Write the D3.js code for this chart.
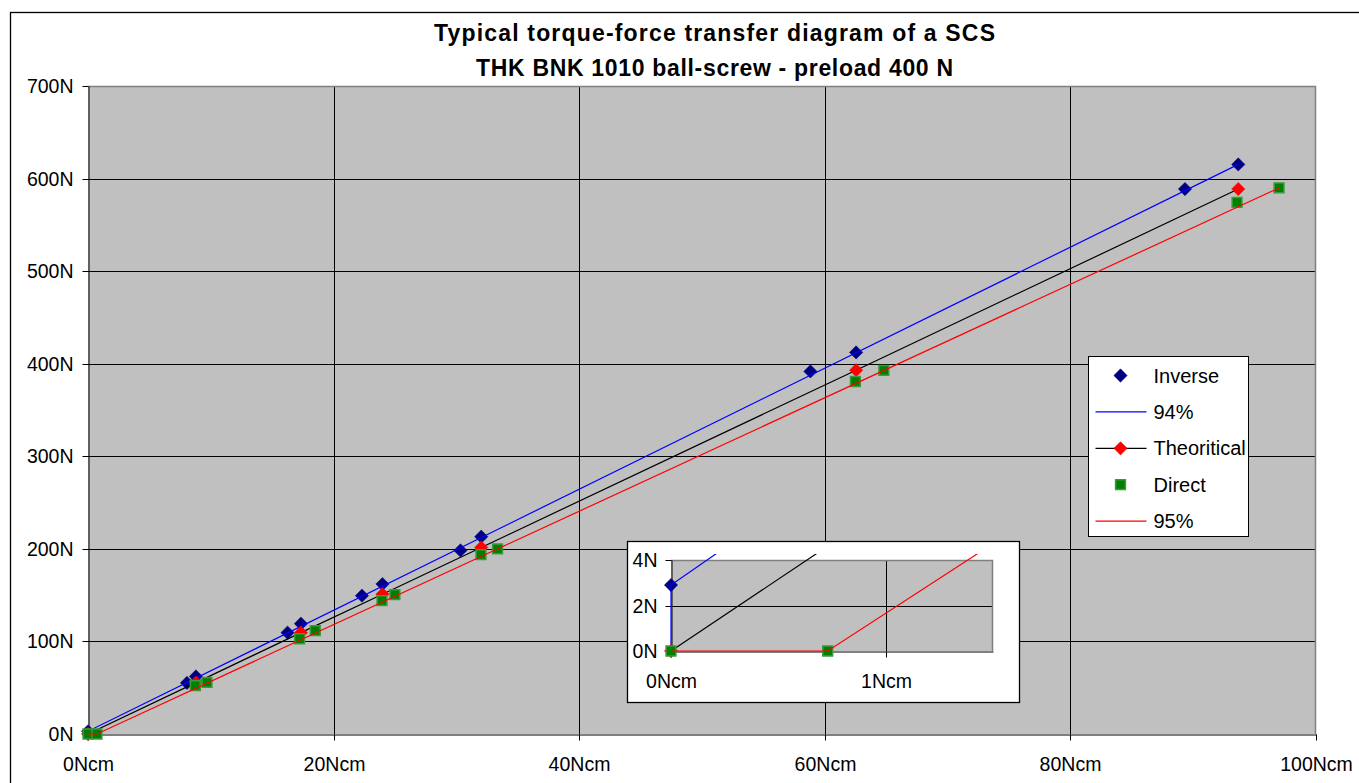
<!DOCTYPE html>
<html>
<head>
<meta charset="utf-8">
<script src="https://cdn.jsdelivr.net/npm/d3@7"></script>
<style>
  body { margin: 0; background: #fff; }
  svg { display: block; font-family: Arial, 'Liberation Sans', sans-serif; }
</style>
</head>
<body>
<svg id="chart" width="1359" height="783"></svg>
<script>
const titleLines = [
  'Typical torque-force transfer diagram of a SCS',
  'THK BNK 1010 ball-screw - preload 400 N'
]
const xTicks = [0, 20, 40, 60, 80, 100]
const yTicks = [0, 100, 200, 300, 400, 500, 600, 700]
const insetXTicks = [0, 1]
const insetYTicks = [0, 2, 4]

// torque (Ncm) / force (N)
const inverseTorque = [0, 8.06, 8.79, 16.25, 17.34, 22.31, 23.98, 30.33, 32.02, 58.83, 62.55, 89.33, 93.67]
const inverseForce = [2.9, 55.2, 62.2, 109.5, 119.2, 149.4, 162.0, 198.3, 213.1, 391.7, 412.2, 588.7, 615.3]
const line94Torque = [0, 0, 93.67]
const line94Force = [0, 2.9, 615.3]
const theoTorque = [0, 8.79, 17.34, 23.98, 32.02, 62.55, 93.67]
const theoForce = [0, 55.5, 109.5, 151.0, 201.5, 393.0, 588.7]
const directTorque = [0, 0.73, 8.74, 9.69, 17.23, 18.51, 23.94, 24.99, 32.0, 33.35, 62.49, 64.81, 93.57, 96.99]
const directForce = [0, 0, 52.2, 55.7, 102.9, 111.6, 144.0, 150.5, 193.7, 199.9, 380.8, 392.8, 574.3, 589.9]
const line95Torque = [0, 0.73, 96.99]
const line95Force = [0, 0, 589.9]

const zip = (xs, ys) => xs.map((x, i) => [x, ys[i]])

const series = [
  { name: 'Inverse', data: zip(inverseTorque, inverseForce), line: null, marker: 'diamond', fill: '#000080' },
  { name: '94%', data: zip(line94Torque, line94Force), line: '#0000ff', marker: null },
  { name: 'Theoritical', data: zip(theoTorque, theoForce), line: '#000000', marker: 'diamond', fill: '#ff0000' },
  { name: 'Direct', data: zip(directTorque, directForce), line: null, marker: 'square', fill: '#008000' },
  { name: '95%', data: zip(line95Torque, line95Force), line: '#ff0000', marker: null }
]

const svg = d3.select('#chart')
const fontSize = 19.5

// outer chart frame (runs off the right and bottom of the picture)
svg.append('rect')
  .attr('x', 10.5).attr('y', 12.5)
  .attr('width', 1400).attr('height', 800)
  .attr('fill', '#fff').attr('stroke', '#000').attr('stroke-width', 1.3)

svg.append('g')
  .selectAll('text')
  .data(titleLines)
  .join('text')
  .attr('x', 714.5)
  .attr('y', (d, i) => 41 + i * 35)
  .attr('text-anchor', 'middle')
  .attr('font-weight', 'bold')
  .attr('font-size', 23)
  .attr('textLength', (d, i) => [561, 477][i])
  .attr('lengthAdjust', 'spacing')
  .text(d => d)

function markerPath (kind) {
  if (kind === 'diamond') return d3.symbol(d3.symbolSquare, 88)()
  return d3.symbol(d3.symbolSquare, 96)()
}

function drawMarker (sel, s) {
  sel.attr('d', markerPath(s.marker))
    .attr('fill', s.fill)
    .attr('stroke', s.marker === 'square' ? '#3a9a3a' : s.fill)
    .attr('stroke-width', s.marker === 'square' ? 1.5 : 0.5)
}

function markerTransform (s, x, y) {
  return s.marker === 'diamond' ? `translate(${x},${y}) rotate(45)` : `translate(${x},${y})`
}

function drawPlot (g, x, y, opts) {
  const [x0, x1] = x.range()
  const [y0, y1] = y.range()

  g.append('rect')
    .attr('x', x0).attr('y', y1)
    .attr('width', x1 - x0).attr('height', y0 - y1)
    .attr('fill', '#c0c0c0')

  g.append('g')
    .selectAll('line')
    .data(opts.yTicks.slice(1, -1))
    .join('line')
    .attr('x1', x0).attr('x2', x1)
    .attr('y1', d => Math.round(y(d)) + 0.5).attr('y2', d => Math.round(y(d)) + 0.5)
    .attr('stroke', '#000')

  g.append('g')
    .selectAll('line')
    .data(opts.xTicks.slice(1).filter(d => x(d) < x1 - 1))
    .join('line')
    .attr('x1', d => Math.round(x(d)) + 0.5).attr('x2', d => Math.round(x(d)) + 0.5)
    .attr('y1', y1).attr('y2', y0)
    .attr('stroke', '#000')

  // top / right frame is grey
  g.append('path')
    .attr('d', `M${x0},${y1 + 0.5}H${x1 - 0.5}V${y0}`)
    .attr('fill', 'none')
    .attr('stroke', '#808080')
    .attr('stroke-width', 1.5)

  const xAxis = d3.axisBottom(x)
    .tickValues(opts.xTicks)
    .tickSize(6)
    .tickSizeOuter(0)
    .tickPadding(17)
    .tickFormat(d => `${d}Ncm`)
  const yAxis = d3.axisLeft(y)
    .tickValues(opts.yTicks)
    .tickSize(6)
    .tickSizeOuter(0)
    .tickPadding(opts.yPad)
    .tickFormat(d => `${d}N`)

  g.append('g')
    .attr('transform', `translate(0,${Math.round(y0) + 0.5})`)
    .call(xAxis)
    .call(a => a.attr('font-size', fontSize).attr('font-family', null))
    .call(a => a.selectAll('line, path').attr('stroke', '#000'))
    .call(a => a.selectAll('.tick').attr('transform', d => `translate(${Math.round(x(d)) + 0.5},0)`))
    .call(a => a.selectAll('text').attr('fill', '#000'))

  g.append('g')
    .attr('transform', `translate(${Math.round(x0) + 0.5},0)`)
    .call(yAxis)
    .call(a => a.attr('font-size', fontSize).attr('font-family', null))
    .call(a => a.selectAll('line, path').attr('stroke', '#000'))
    .call(a => a.selectAll('.tick').attr('transform', d => `translate(0,${Math.round(y(d)) + 0.5})`))
    .call(a => a.selectAll('text').attr('fill', '#000'))

  const clipId = `clip-${opts.id}`
  g.append('clipPath')
    .attr('id', clipId)
    .append('rect')
    .attr('x', x0 - 2).attr('y', y1 - opts.clipTop)
    .attr('width', x1 - x0 + 4).attr('height', y0 - y1 + opts.clipTop + 3)

  const line = d3.line().x(d => x(d[0])).y(d => y(d[1]))

  series.forEach(s => {
    if (s.line) {
      g.append('path')
        .datum(s.data)
        .attr('clip-path', `url(#${clipId})`)
        .attr('d', line)
        .attr('fill', 'none')
        .attr('stroke', s.line)
        .attr('stroke-width', 1.2)
    }
    if (s.marker) {
      const pts = s.data.filter(d => d[0] <= x.domain()[1] && d[1] <= y.domain()[1])
      g.append('g')
        .selectAll('path')
        .data(pts)
        .join('path')
        .call(sel => drawMarker(sel, s))
        .attr('transform', d => markerTransform(s, x(d[0]), y(d[1])))
    }
  })
}

// main plot
const x = d3.scaleLinear().domain([0, 100]).range([88, 1316])
const y = d3.scaleLinear().domain([0, 700]).range([734, 86])
drawPlot(svg.append('g'), x, y, { id: 'main', xTicks, yTicks, yPad: 9, clipTop: 0 })

// legend
const legend = svg.append('g').attr('transform', 'translate(1088.5,356.5)')
legend.append('rect')
  .attr('width', 160).attr('height', 180)
  .attr('fill', '#fff').attr('stroke', '#000')
const items = legend.selectAll('g')
  .data(series)
  .join('g')
  .attr('transform', (d, i) => `translate(0,${19 + i * 36.4})`)
items.filter(d => d.line)
  .append('line')
  .attr('x1', 7).attr('x2', 58)
  .attr('stroke', d => d.line)
  .attr('stroke-width', 1.2)
items.filter(d => d.marker)
  .append('path')
  .each(function (d) { drawMarker(d3.select(this), d) })
  .attr('transform', d => markerTransform(d, 32, 0))
items.append('text')
  .attr('x', 65)
  .attr('dy', '0.35em')
  .attr('font-size', 20)
  .text(d => d.name)

// zoom inset near the origin
const inset = svg.append('g')
inset.append('rect')
  .attr('x', 627.5).attr('y', 541.5)
  .attr('width', 392).attr('height', 161)
  .attr('fill', '#fff').attr('stroke', '#000').attr('stroke-width', 1.3)
const ix = d3.scaleLinear().domain([0, 1.5]).range([671, 993])
const iy = d3.scaleLinear().domain([0, 4]).range([651, 560])
drawPlot(inset, ix, iy, { id: 'inset', xTicks: insetXTicks, yTicks: insetYTicks, yPad: 8, clipTop: 6 })
</script>
</body>
</html>
